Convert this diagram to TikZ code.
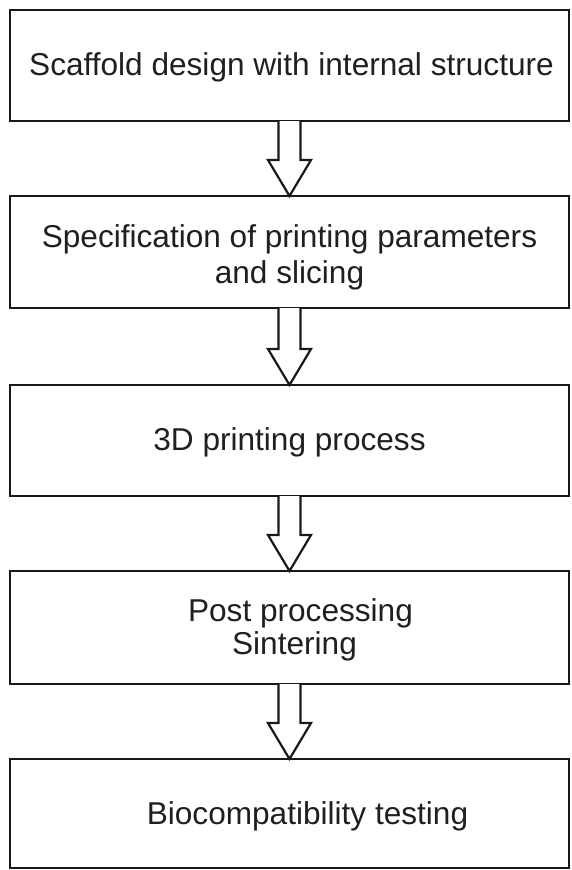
\documentclass[tikz,border=0pt]{standalone}
\usepackage{fontspec}
\setmainfont{Liberation Sans}
\usetikzlibrary{calc}

% hollow block arrow from the bottom of one box to the top of the next
\newcommand{\hollowarrow}[2]{%
  \draw[blockarrow] ($(#1.south)+(-11,0)$) -- ($(#2.north)+(-11,-36)$)
    -- ($(#2.north)+(-21.5,-36)$) -- (#2.north)
    -- ($(#2.north)+(21.5,-36)$) -- ($(#2.north)+(11,-36)$)
    -- ($(#1.south)+(11,0)$);}

\begin{document}
\begin{tikzpicture}[x=1pt,y=-1pt,
  stagebox/.style={draw=black!90, line width=2.2pt, minimum width=559pt,
    inner sep=0pt, outer sep=0pt},
  stagetext/.style={font=\fontsize{31.6}{36}\selectfont, align=center,
    text=black!88, inner sep=0pt},
  blockarrow/.style={draw=black!90, line width=2.2pt, line join=miter, fill=white}]
  \useasboundingbox (0,0) rectangle (571,870);

  \node[stagebox, minimum height=111pt] (b1) at (289.5,65.5) {};
  \node[stagebox, minimum height=112pt] (b2) at (289.5,252) {};
  \node[stagebox, minimum height=111pt] (b3) at (289.5,440.5) {};
  \node[stagebox, minimum height=113pt] (b4) at (289.5,627.5) {};
  \node[stagebox, minimum height=109pt] (b5) at (289.5,813.5) {};

  \node[stagetext] (t1) at ($(b1.center)+(2,2)$) {Scaffold design with internal structure};
  \node[stagetext] (t2) at ($(b2.center)+(0,5)$) {Specification of printing parameters\\and slicing};
  \node[stagetext] (t3) at ($(b3.center)+(0,2)$) {3D printing process};
  \node[stagetext] (t4a) at ($(b4.center)+(11,-14)$) {Post processing};
  \node[stagetext] (t4b) at ($(b4.center)+(5,19)$) {Sintering};
  \node[stagetext] (t5) at ($(b5.center)+(18,3)$) {Biocompatibility testing};

  \hollowarrow{b1}{b2}
  \hollowarrow{b2}{b3}
  \hollowarrow{b3}{b4}
  \hollowarrow{b4}{b5}
\end{tikzpicture}
\end{document}
